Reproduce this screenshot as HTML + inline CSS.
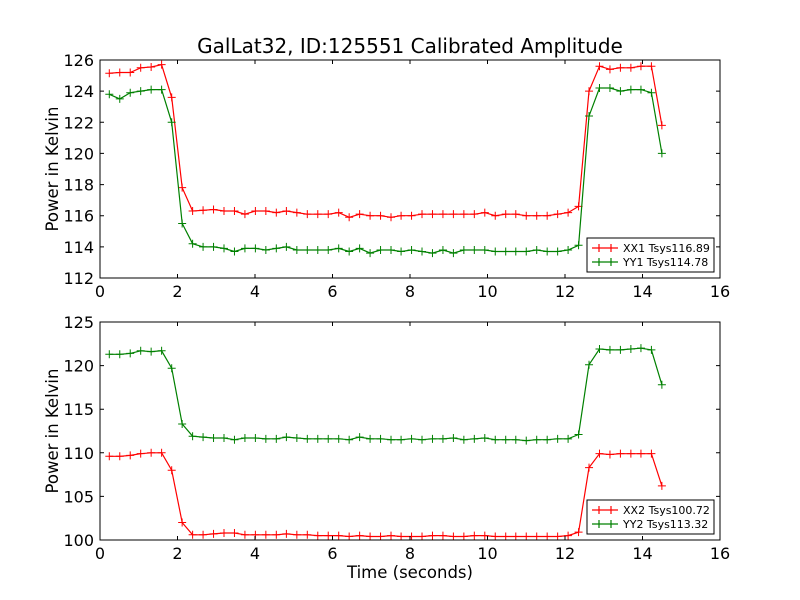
<!DOCTYPE html>
<html><head><meta charset="utf-8"><style>
body{margin:0;background:#fff;}
svg{display:block;font-family:"DejaVu Sans","Liberation Sans",sans-serif;}
</style></head><body>
<svg id="chart" width="800" height="600" viewBox="0 0 800 600"></svg>
<script>
const times=[0.24,0.51,0.78,1.05,1.32,1.59,1.85,2.12,2.39,2.66,2.93,3.20,3.47,3.74,4.01,4.28,4.55,4.81,5.08,5.35,5.62,5.89,6.16,6.43,6.70,6.97,7.24,7.51,7.77,8.04,8.31,8.58,8.85,9.12,9.39,9.66,9.93,10.20,10.47,10.73,11.00,11.27,11.54,11.81,12.08,12.35,12.62,12.89,13.16,13.43,13.70,13.96,14.23,14.50];
const xx1=[125.15,125.2,125.2,125.5,125.55,125.7,123.6,117.8,116.3,116.35,116.4,116.3,116.3,116.1,116.3,116.3,116.2,116.3,116.2,116.1,116.1,116.1,116.2,115.9,116.1,116.0,116.0,115.9,116.0,116.0,116.1,116.1,116.1,116.1,116.1,116.1,116.2,116.0,116.1,116.1,116.0,116.0,116.0,116.1,116.2,116.6,124.0,125.6,125.4,125.5,125.5,125.6,125.6,121.8];
const yy1=[123.8,123.5,123.9,124.0,124.1,124.1,122.0,115.5,114.2,114.0,114.0,113.9,113.7,113.9,113.9,113.8,113.9,114.0,113.8,113.8,113.8,113.8,113.9,113.7,113.9,113.6,113.8,113.8,113.7,113.8,113.7,113.6,113.8,113.6,113.8,113.8,113.8,113.7,113.7,113.7,113.7,113.8,113.7,113.7,113.8,114.1,122.4,124.2,124.2,124.0,124.1,124.1,123.9,120.0];
const xx2=[109.6,109.6,109.7,109.9,110.0,110.0,108.0,102.0,100.6,100.6,100.7,100.8,100.8,100.6,100.6,100.6,100.6,100.7,100.6,100.6,100.5,100.5,100.5,100.4,100.5,100.4,100.4,100.5,100.4,100.4,100.4,100.5,100.5,100.4,100.4,100.5,100.5,100.4,100.4,100.4,100.4,100.4,100.4,100.4,100.5,100.9,108.3,109.9,109.8,109.9,109.9,109.9,109.9,106.2];
const yy2=[121.3,121.3,121.4,121.7,121.6,121.7,119.7,113.3,111.9,111.8,111.7,111.7,111.5,111.7,111.7,111.6,111.6,111.8,111.7,111.6,111.6,111.6,111.6,111.5,111.8,111.6,111.6,111.5,111.5,111.6,111.5,111.6,111.6,111.7,111.5,111.6,111.7,111.5,111.5,111.5,111.4,111.5,111.5,111.6,111.6,112.1,120.1,121.9,121.8,121.8,121.9,122.0,121.8,117.8];
const xTicks=[0,2,4,6,8,10,12,14,16];
const yTicksTop=[112,114,116,118,120,122,124,126];
const yTicksBot=[100,105,110,115,120,125];
const labelsTop=["XX1 Tsys116.89","YY1 Tsys114.78"];
const labelsBot=["XX2 Tsys100.72","YY2 Tsys113.32"];

const NS="http://www.w3.org/2000/svg";
const svg=document.getElementById('chart');
function mk(tag,attrs,parent){const e=document.createElementNS(NS,tag);for(const k in attrs)e.setAttribute(k,attrs[k]);(parent||svg).appendChild(e);return e;}
const L=100,R=720;
function xs(v){return L+(v-0)/(16-0)*(R-L);}

function panel(name,top,bot,ymin,ymax,yTicks,s1,s2,labels,showXTitle,legY){
  const g=mk('g',{});
  
  
  const ys=v=>bot-(v-ymin)/(ymax-ymin)*(bot-top);
  [[s1,'#ff0000','series-xx'],[s2,'#008000','series-yy']].forEach(([s,c,n])=>{
    let d='';
    s.forEach((v,i)=>{d+=(i?'L':'M')+xs(times[i]).toFixed(1)+','+ys(v).toFixed(1);});
    const p=mk('path',{d:d,fill:'none',stroke:c,'stroke-width':1.2},g);
    
    
    s.forEach((v,i)=>{
      const x=xs(times[i]),y=ys(v);
      const m=mk('path',{d:`M${x-4},${y}H${x+4}M${x},${y-4}V${y+4}`,stroke:c,'stroke-width':1},g);
      
      
    });
  });
  const fr=mk('rect',{x:L,y:top,width:R-L,height:bot-top,fill:'none',stroke:'#000','stroke-width':1},g);
  
  
  xTicks.forEach(t=>{
    const x=xs(t);
    mk('path',{d:`M${x},${bot}v-4M${x},${top}v4`,stroke:'#000'},g);
    const tx=mk('text',{x:x,y:bot+19,'text-anchor':'middle','font-size':16},g);
    tx.textContent=t;
    
    
  });
  yTicks.forEach(t=>{
    const y=ys(t);
    mk('path',{d:`M${L},${y}h4M${R},${y}h-4`,stroke:'#000'},g);
    const tx=mk('text',{x:L-6,y:y+6,'text-anchor':'end','font-size':16},g);
    tx.textContent=t;
    
    
  });
  const yt=mk('text',{x:0,y:0,'text-anchor':'middle','font-size':16.5,transform:`translate(58,${(top+bot)/2}) rotate(-90)`},g);
  yt.textContent='Power in Kelvin';
  
  
  if(showXTitle){
    const xt=mk('text',{x:(L+R)/2,y:bot+38,'text-anchor':'middle','font-size':16.5},g);
    xt.textContent='Time (seconds)';
    
    
  }
  const lg=mk('g',{},g);
  
  
  mk('rect',{x:587,y:legY,width:127,height:34,fill:'#fff',stroke:'#000','stroke-width':1},lg);
  labels.forEach((lab,i)=>{
    const c=i?'#008000':'#ff0000';const y=legY+10+i*14;
    mk('path',{d:`M592,${y}h26M599,${y-4}v8M611,${y-4}v8`,stroke:c,'stroke-width':1.2},lg);
    const t=mk('text',{x:623,y:y+4,'font-size':11},lg);
    t.textContent=lab;
    
    
  });
}
const title=mk('text',{x:410,y:53,'text-anchor':'middle','font-size':20});
title.textContent='GalLat32, ID:125551 Calibrated Amplitude';


panel('top-panel',60,278,112,126,yTicksTop,xx1,yy1,labelsTop,false,238);
panel('bottom-panel',322,540,100,125,yTicksBot,xx2,yy2,labelsBot,true,500);
</script>
</body></html>
